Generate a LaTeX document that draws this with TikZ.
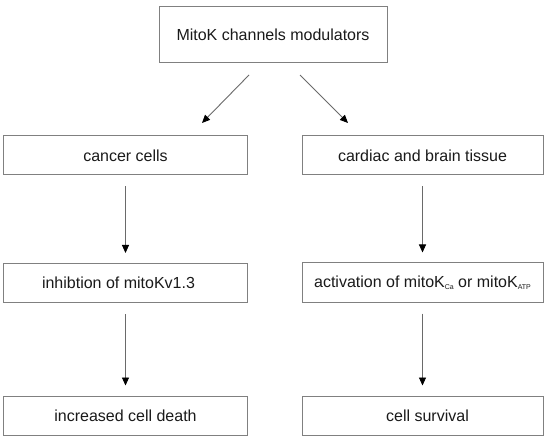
\documentclass[tikz,border=0pt]{standalone}
\usepackage{fontspec}
\setmainfont{Liberation Sans}
\usetikzlibrary{arrows.meta}
\definecolor{boxgray}{HTML}{808080}
\definecolor{linegray}{HTML}{6A6A6A}
\definecolor{txt}{HTML}{1A1A1A}
\newcommand{\subs}[1]{\raisebox{-2.2bp}{\fontsize{7bp}{7bp}\selectfont #1}}
\begin{document}
\begin{tikzpicture}[x=1bp,y=-1bp,
  box/.style={draw=boxgray, line width=1bp, fill=white, text=txt, inner sep=0pt,
    minimum height=39bp, font=\fontsize{16bp}{19bp}\selectfont},
  lbox/.style={box, minimum width=243bp},
  rbox/.style={box, minimum width=241bp},
  arr/.style={draw=linegray, line width=0.9bp, -{Triangle[length=8bp,width=7bp,color=black]}},
  varr/.style={arr, shorten <=11bp, shorten >=10bp}]
\fill[white] (0,0) rectangle (550,440);
\useasboundingbox (0,0) rectangle (550,440);

\node[box, minimum width=228bp, minimum height=56bp] (top) at (273,35) {MitoK channels modulators};

\node[lbox] (cancer) at (125.5,155.5) {cancer cells};
\node[rbox] (cardiac) at (422.5,155.5) {cardiac and brain tissue};

\node[lbox] (inhib) at (125.5,283) {inhibtion of mitoKv1.3\hspace*{14bp}};
\node[rbox] (activ) at (422.5,282.5) {activation of mitoK\subs{Ca} or mitoK\subs{ATP}};

\node[lbox] (death) at (125.5,415.5) {increased cell death};
\node[rbox] (surv) at (422.5,415.5) {\hspace*{10bp}cell survival};

\coordinate (ls) at (249,75);
\coordinate (le) at (202,123);
\coordinate (rs) at (300,75);
\coordinate (re) at (348,123);
\draw[arr] (ls) -- (le);
\draw[arr] (rs) -- (re);

\draw[varr] (cancer) -- (inhib);
\draw[varr] (inhib) -- (death);
\draw[varr] (cardiac) -- (activ);
\draw[varr] (activ) -- (surv);
\end{tikzpicture}
\end{document}
